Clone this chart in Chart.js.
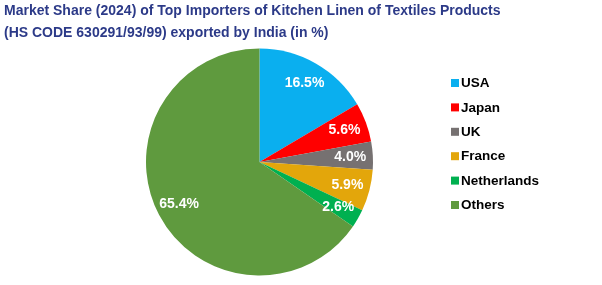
<!DOCTYPE html>
<html><head><meta charset="utf-8">
<script src="https://cdn.jsdelivr.net/npm/chart.js@4"></script>
<style>html,body{margin:0;padding:0;background:#fff}#wrap{width:602px;height:285px}</style>
</head><body><div id="wrap"><canvas id="c" width="602" height="285"></canvas></div>
<script>
const titleLines = ['Market Share (2024) of Top Importers of Kitchen Linen of Textiles Products', '(HS CODE 630291/93/99) exported by India (in %)'];
const categories = ['USA', 'Japan', 'UK', 'France', 'Netherlands', 'Others'];
const shares = [16.5, 5.6, 4.0, 5.9, 2.6, 65.4];
const sliceColors = ['#0AAFEF', '#FF0000', '#767171', '#E3A60B', '#00B050', '#5F9A3E'];

const labelPlugin = {
  id: 'sliceLabels',
  afterDatasetsDraw(chart) {
    const ctx = chart.ctx;
    const meta = chart.getDatasetMeta(0);
    ctx.save();
    ctx.font = 'bold 14px "Liberation Sans", Arial, sans-serif';
    ctx.fillStyle = '#ffffff';
    ctx.textAlign = 'center';
    ctx.textBaseline = 'middle';
    meta.data.forEach((arc, i) => {
      const p = arc.getProps(['x','y','startAngle','endAngle','outerRadius'], true);
      const mid = (p.startAngle + p.endAngle) / 2;
      const r = p.outerRadius * 0.8;
      ctx.fillText(shares[i].toFixed(1) + '%', p.x + Math.cos(mid) * r, p.y + Math.sin(mid) * r);
    });
    ctx.restore();
  }
};

const legendPlugin = {
  id: 'sideLegend',
  afterDraw(chart) {
    const ctx = chart.ctx;
    const ds = chart.data.datasets[0];
    ctx.save();
    ctx.font = 'bold 13.5px "Liberation Sans", Arial, sans-serif';
    ctx.textBaseline = 'middle';
    ctx.textAlign = 'left';
    chart.data.labels.forEach((lab, i) => {
      const y = 83 + i * 24.4;
      ctx.fillStyle = ds.backgroundColor[i];
      ctx.fillRect(451, y - 4, 8, 8);
      ctx.fillStyle = '#000000';
      ctx.fillText(lab, 461, y + 0.5);
    });
    ctx.restore();
  }
};

new Chart(document.getElementById('c'), {
  type: 'pie',
  data: {
    labels: categories,
    datasets: [{ data: shares, backgroundColor: sliceColors, borderWidth: 0, radius: 113.5 }]
  },
  options: {
    responsive: false,
    animation: false,
    events: [],
    layout: { padding: { left: 4, right: 87, top: 0, bottom: 9.5 } },
    plugins: {
      legend: { display: false },
      tooltip: { enabled: false },
      title: {
        display: true,
        text: titleLines,
        align: 'start',
        color: '#2C3A88',
        font: { family: '"Liberation Sans", Arial, sans-serif', size: 14, weight: 'bold', lineHeight: 22/14 },
        padding: { top: 0, bottom: 4.5 }
      }
    }
  },
  plugins: [labelPlugin, legendPlugin]
});
</script></body></html>
